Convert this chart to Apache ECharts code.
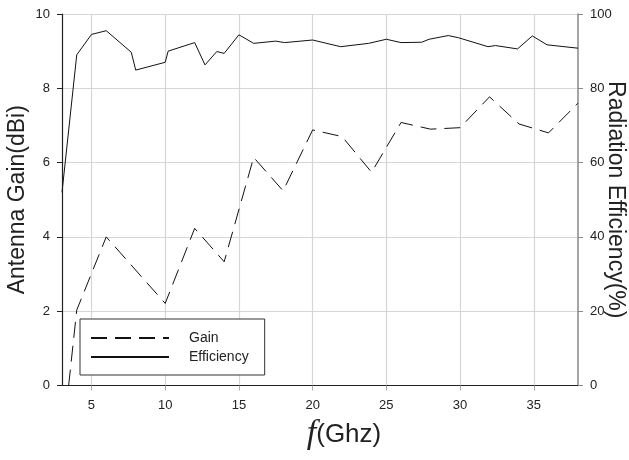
<!DOCTYPE html>
<html>
<head>
<meta charset="utf-8">
<script src="https://cdn.jsdelivr.net/npm/echarts@6/dist/echarts.min.js"></script>
<style>
  html, body { margin: 0; padding: 0; background: #fff; }
  #chart { width: 629px; height: 460px; }
</style>
</head>
<body>
<div id="chart"></div>
<script>
// efficiency curve (GHz, %)
const effFreq = [3, 4, 5, 6, 7.7, 8, 10, 10.2, 12, 12.7, 13.5, 14, 15, 16, 17.5, 18.1, 20, 21.9, 23.8, 25, 26, 27.4, 27.9, 29.2, 29.9, 31.9, 32.4, 33.9, 34.9, 35.9, 38]
const effValues = [52, 89, 94.5, 95.5, 89.7, 84.9, 87, 90, 92.3, 86.3, 89.9, 89.4, 94.4, 92.1, 92.7, 92.3, 93.0, 91.2, 92.1, 93.2, 92.3, 92.4, 93.2, 94.2, 93.6, 91.2, 91.5, 90.6, 94.1, 91.7, 90.8]

// gain curve (GHz, dBi)
const gainFreq = [3.45, 4, 6, 10, 12, 14, 16, 18, 20, 22, 24, 26, 28, 30, 32, 34, 36, 38]
const gainValues = [0, 2.03, 4.0, 2.21, 4.23, 3.33, 6.14, 5.24, 6.88, 6.7, 5.74, 7.08, 6.9, 6.94, 7.77, 7.04, 6.8, 7.6]

const xTicks = [5, 10, 15, 20, 25, 30, 35]

const font = 'Liberation Sans, Arial, sans-serif'
const dark = '#222'
const gridColor = '#d6d6d6'

const chart = echarts.init(document.getElementById('chart'))

chart.setOption({
  animation: false,
  grid: { left: 62, right: 51, top: 14, bottom: 74.5, outerBoundsMode: 'none', containLabel: false },
  legend: {
    orient: 'vertical',
    left: 80,
    top: 319,
    padding: [12, 16, 11, 10],
    itemWidth: 78,
    itemHeight: 14,
    itemGap: 5,
    borderColor: '#333',
    borderWidth: 1,
    backgroundColor: '#fff',
    // hide the marker dot, keep only the line
    itemStyle: { opacity: 0 },
    textStyle: { fontFamily: font, fontSize: 14, color: dark, padding: [0, 0, 0, 15] },
    data: ['Gain', 'Efficiency']
  },
  xAxis: [
    {
      type: 'value',
      min: 3,
      max: 38,
      position: 'bottom',
      name: '{f|f}{u|(Ghz)}',
      nameLocation: 'middle',
      nameGap: 32,
      nameMoveOverlap: false,
      nameTextStyle: {
        padding: [0, 0, 0, 48],
        rich: {
          f: { fontFamily: 'Liberation Serif, serif', fontStyle: 'italic', fontSize: 34, color: dark },
          u: { fontFamily: font, fontSize: 26, color: dark }
        }
      },
      axisLine: { lineStyle: { color: dark, width: 1.2 } },
      axisTick: { show: true, length: 5, lineStyle: { color: '#aaa' }, customValues: xTicks },
      axisLabel: { fontFamily: font, fontSize: 13, color: dark, margin: 13, customValues: xTicks },
      splitLine: { show: true, lineStyle: { color: gridColor, width: 1.2 } }
    },
    {
      type: 'value',
      min: 3,
      max: 38,
      position: 'top',
      axisLine: { show: true, lineStyle: { color: dark, width: 1.2 } },
      axisTick: { show: false },
      axisLabel: { show: false },
      splitLine: { show: false }
    }
  ],
  yAxis: [
    {
      type: 'value',
      min: 0,
      max: 10,
      interval: 2,
      position: 'left',
      name: 'Antenna Gain(dBi)',
      nameLocation: 'middle',
      nameRotate: 90,
      nameGap: 33,
      nameMoveOverlap: false,
      nameTextStyle: { fontFamily: font, fontSize: 23, color: dark },
      axisLine: { show: true, lineStyle: { color: dark, width: 1.2 } },
      axisTick: { show: true, length: 5, lineStyle: { color: dark } },
      axisLabel: { fontFamily: font, fontSize: 13, color: dark, margin: 12 },
      splitLine: { show: true, lineStyle: { color: gridColor, width: 1.2 } }
    },
    {
      type: 'value',
      min: 0,
      max: 100,
      interval: 20,
      position: 'right',
      name: 'Radiation Efficiency(%)',
      nameLocation: 'middle',
      nameRotate: -90,
      nameGap: 26,
      nameMoveOverlap: false,
      nameTextStyle: { fontFamily: font, fontSize: 23, color: dark },
      axisLine: { show: true, lineStyle: { color: '#888', width: 1.5 } },
      axisTick: { show: true, length: 5, lineStyle: { color: '#888' } },
      axisLabel: { fontFamily: font, fontSize: 13, color: dark, margin: 12 },
      splitLine: { show: false }
    }
  ],
  series: [
    {
      name: 'Gain',
      type: 'line',
      xAxisIndex: 0,
      yAxisIndex: 0,
      symbol: 'none',
      data: gainFreq.map((f, i) => [f, gainValues[i]]),
      lineStyle: { color: '#111', width: 1, type: [16, 8] },
      itemStyle: { color: '#111' }
    },
    {
      name: 'Efficiency',
      type: 'line',
      xAxisIndex: 0,
      yAxisIndex: 1,
      symbol: 'none',
      data: effFreq.map((f, i) => [f, effValues[i]]),
      lineStyle: { color: '#111', width: 1 },
      itemStyle: { color: '#111' }
    }
  ]
})
</script>
</body>
</html>
